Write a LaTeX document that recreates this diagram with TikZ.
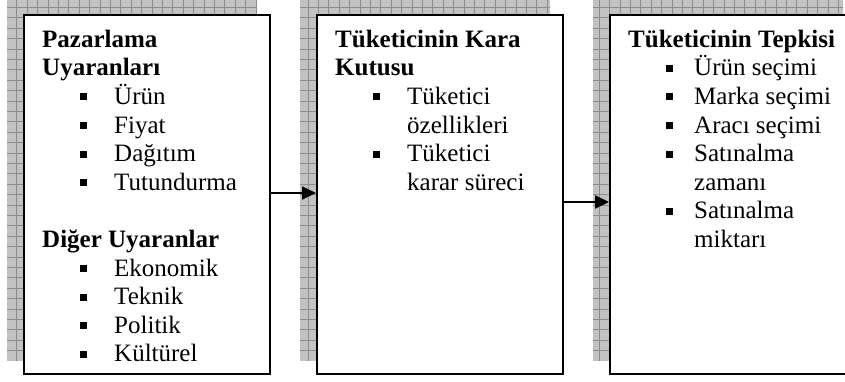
\documentclass[tikz,border=0pt]{standalone}
\usepackage{fontspec}
\setmainfont{Liberation Serif}
\usetikzlibrary{arrows.meta, positioning, backgrounds}

\newcommand{\madde}[2][27pt]{\hspace*{38pt}\rule[4pt]{7pt}{7pt}\hspace*{#1}#2}
\newcommand{\devam}[2][27pt]{\hspace*{\dimexpr45pt+#1\relax}#2}
\newcommand{\ilksatir}{\rule{0pt}{20pt}}

\begin{document}
\begin{tikzpicture}[x=1pt, y=-1pt,
    node distance=45pt,
    kutu/.style={rectangle, draw=black, fill=white, line width=2pt, minimum width=246pt, minimum height=359pt, inner sep=0pt},
    metin/.style={anchor=north west, inner sep=0pt, align=left, font=\fontsize{25}{28.6}\selectfont},
    golge/.style={fill=black!24},
    izgara/.style={draw=black!45, line width=0.7pt},
    ok/.style={-{Triangle[length=14pt, width=13pt]}, line width=2pt},
]
    \clip (0,0) rectangle (845,381);

    \node[kutu, anchor=north west] (uyaran) at (23,14) {};
    \node[kutu, right=of uyaran] (kara) {};
    \node[kutu, right=of kara] (tepki) {};

    % golge: izgarali arka plan
    \begin{scope}[on background layer]
    \foreach \k in {uyaran,kara,tepki}{
        \begin{scope}
            \clip ([shift={(-16,-15)}]\k.north west) rectangle ([shift={(-14,-15)}]\k.south east);
            \fill[golge] (0,0) rectangle (900,400);
            \foreach \gx in {6.3,16.7,...,860} \draw[izgara] (\gx,-5) -- (\gx,400);
            \foreach \gy in {-3.1,7.3,...,400} \draw[izgara] (-5,\gy) -- (900,\gy);
        \end{scope}
    }
    \end{scope}

    \node[metin] (uyaranmetin) at ([shift={(19,13)}]uyaran.north west) {\ilksatir\textbf{Pazarlama}\\
        \textbf{Uyaranları}\\
        \madde{Ürün}\\
        \madde{Fiyat}\\
        \madde{Dağıtım}\\
        \madde{Tutundurma}\\[28.6pt]
        \textbf{Diğer Uyaranlar}\\
        \madde{Ekonomik}\\
        \madde{Teknik}\\
        \madde{Politik}\\
        \madde{Kültürel}};
    \node[metin] (karametin) at ([shift={(19,13)}]kara.north west) {\ilksatir\textbf{Tüketicinin Kara}\\
        \textbf{Kutusu}\\
        \madde{Tüketici}\\
        \devam{özellikleri}\\
        \madde{Tüketici}\\
        \devam{karar süreci}};
    \node[metin] (tepkimetin) at ([shift={(19,13)}]tepki.north west) {\ilksatir\textbf{Tüketicinin Tepkisi}\\
        \madde[21pt]{Ürün seçimi}\\
        \madde[21pt]{Marka seçimi}\\
        \madde[21pt]{Aracı seçimi}\\
        \madde[21pt]{Satınalma}\\
        \devam[21pt]{zamanı}\\
        \madde[21pt]{Satınalma}\\
        \devam[21pt]{miktarı}};

    \draw[ok] (uyaran.east |- 0,193) -- (kara.west |- 0,193);
    \draw[ok] (kara.east |- 0,202) -- (tepki.west |- 0,202);
\end{tikzpicture}
\end{document}
